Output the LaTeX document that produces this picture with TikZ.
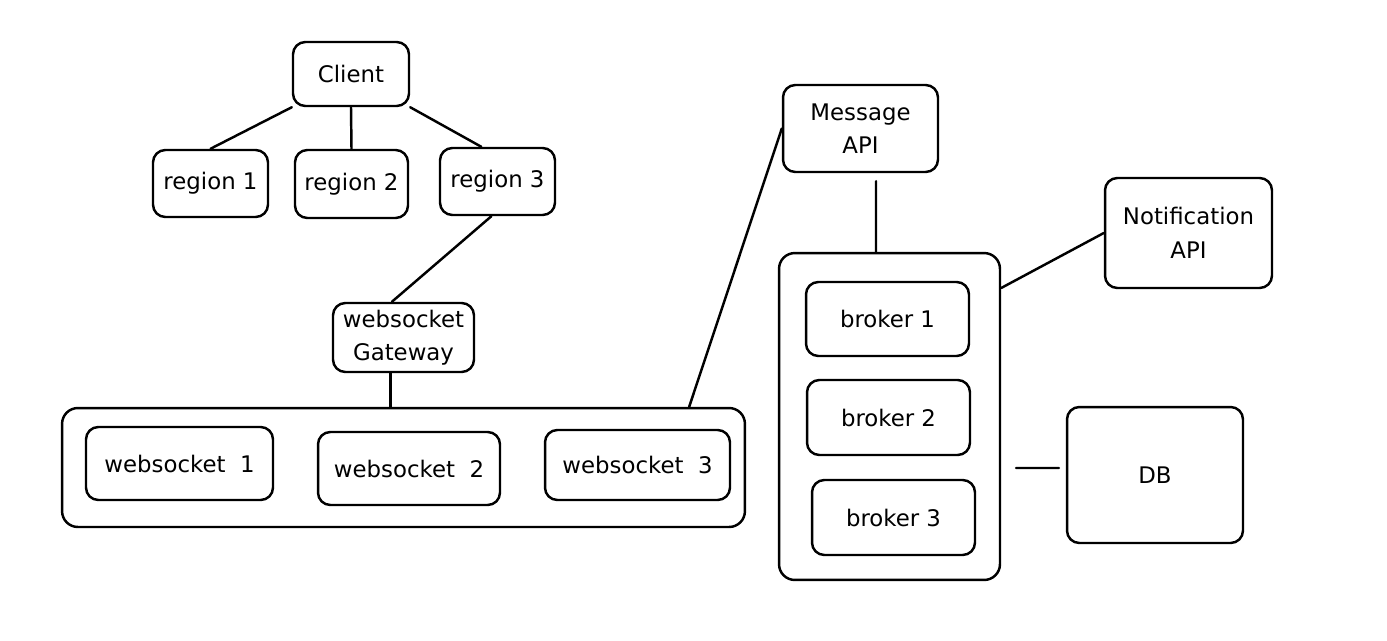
\documentclass[tikz,border=0pt]{standalone}
\usepackage{fontspec}
\setmainfont{DejaVu Sans}
\begin{document}
\begin{tikzpicture}[x=0.02cm,y=-0.02cm,
		box/.style={draw,line width=1.4pt,rounded corners=7pt,inner sep=0pt,align=center,font=\fontsize{13}{19}\selectfont},
		link/.style={line width=1.4pt,line cap=round}]
			\useasboundingbox (0,0) rectangle (1387,640);

			% Cliente y regiones
			\node[box,minimum width=2.32cm,minimum height=1.28cm] (client) at (351,74) {Client};
			\node[box,minimum width=2.30cm,minimum height=1.34cm] (reg1) at (210.5,183.5) {region 1};
			\node[box,minimum width=2.26cm,minimum height=1.36cm] (reg2) at (351.5,184) {region 2};
			\node[box,minimum width=2.30cm,minimum height=1.34cm] (reg3) at (497.5,181.5) {region 3};

			\draw[link] (client.south west) -- (reg1.north);
			\draw[link] (client.south) -- (reg2.north);
			\draw[link] (client.south east) -- (reg3.115);

			% Gateway y websockets
			\node[box,minimum width=2.82cm,minimum height=1.38cm] (gateway) at (403.5,337.5) {websocket\\Gateway};
			\node[box,minimum width=13.66cm,minimum height=2.38cm,rounded corners=9pt] (wsall) at (403.5,467.5) {};
			\node[box,minimum width=3.74cm,minimum height=1.46cm] (ws1) at (179.5,463.5) {websocket~~1};
			\node[box,minimum width=3.64cm,minimum height=1.46cm] (ws2) at (409,468.5) {websocket~~2};
			\node[box,minimum width=3.70cm,minimum height=1.40cm] (ws3) at (637.5,465) {websocket~~3};

			\draw[link] (reg3.-100) -- (gateway.108);
			\draw[link] (gateway.250) -- (gateway.250 |- wsall.north);

			% APIs y brokers
			\node[box,minimum width=3.10cm,minimum height=1.74cm] (msgapi) at (860.5,128.5) {Message\\API};
			\node[box,minimum width=4.42cm,minimum height=6.54cm,rounded corners=9pt] (brokers) at (889.5,416.5) {};
			\node[box,minimum width=3.26cm,minimum height=1.48cm] (bkr1) at (887.5,319) {broker 1};
			\node[box,minimum width=3.26cm,minimum height=1.50cm] (bkr2) at (888.5,417.5) {broker 2};
			\node[box,minimum width=3.26cm,minimum height=1.50cm] (bkr3) at (893.5,517.5) {broker 3};
			\node[box,minimum width=3.34cm,minimum height=2.20cm] (notifapi) at (1188.5,233) {Notification\\API};
			\node[box,minimum width=3.52cm,minimum height=2.72cm] (db) at (1155,475) {DB};

			\draw[link] (wsall.12.3) -- (msgapi.west);
			\draw[link] ([xshift=0.31cm,yshift=-0.16cm]msgapi.south) -- ([xshift=-0.27cm]brokers.north);
			\draw[link] (brokers.49) -- (notifapi.west);
			\draw[link,shorten <=0.3cm,shorten >=0.14cm] ([yshift=-1.03cm]brokers.east) -- ([yshift=0.14cm]db.west);

		    \end{tikzpicture}
\end{document}
